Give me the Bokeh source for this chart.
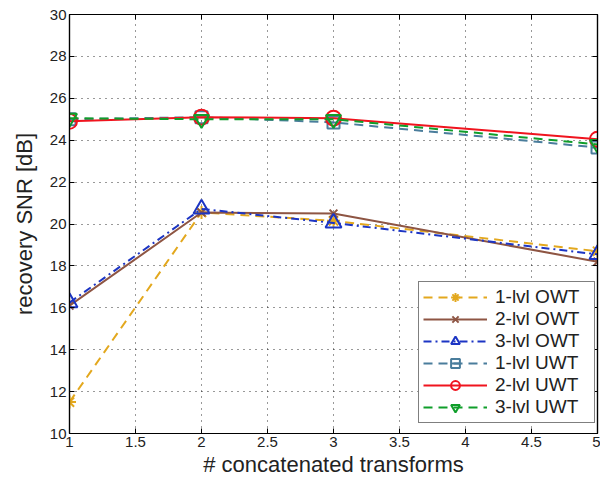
from bokeh.plotting import figure
from bokeh.models import LinearAxis, Legend, LegendItem, FixedTicker, Range1d
from bokeh.embed import file_html
from bokeh.resources import INLINE

x_vals = [1, 2, 3, 5]
owt1 = [11.5, 20.55, 20.15, 18.7]
owt2 = [16.1, 20.55, 20.5, 18.2]
owt3 = [16.25, 20.72, 20.05, 18.55]
uwt1 = [25.0, 25.1, 24.85, 23.65]
uwt2 = [24.9, 25.1, 25.05, 24.05]
uwt3 = [25.05, 25.0, 25.0, 23.8]

labels = ["1-lvl OWT", "2-lvl OWT", "3-lvl OWT", "1-lvl UWT", "2-lvl UWT", "3-lvl UWT"]
series = [owt1, owt2, owt3, uwt1, uwt2, uwt3]
colors = ["#E3A81E", "#8E5543", "#1C35C4", "#4A7D9C", "#F0141E", "#0F9E2A"]
dashes = ["9 6", "solid", "8 4 2 4", "9 6", "solid", "9 6"]
markers = ["asterisk", "x", "triangle", "square", "circle", "inverted_triangle"]
msizes = [13, 11, 16, 12, 15, 15]

x_ticks = [1, 1.5, 2, 2.5, 3, 3.5, 4, 4.5, 5]
y_ticks = list(range(10, 31, 2))

FONT = "Liberation Sans"
TXT = "#222222"

p = figure(width=600, height=480, output_backend="svg", toolbar_location=None,
           x_range=Range1d(1, 5), y_range=Range1d(10, 30),
           x_axis_label="# concatenated transforms", y_axis_label="recovery SNR [dB]",
           min_border_left=69, min_border_right=3, min_border_top=14, min_border_bottom=47)

p.outline_line_color = "black"
p.outline_line_width = 1.2
p.background_fill_color = "white"
p.border_fill_color = "white"

for ax in p.xaxis:
    ax.ticker = FixedTicker(ticks=x_ticks)
for ax in p.yaxis:
    ax.ticker = FixedTicker(ticks=y_ticks)

for ax in list(p.xaxis) + list(p.yaxis):
    ax.major_tick_in = 5
    ax.major_tick_out = 0
    ax.minor_tick_in = 0
    ax.minor_tick_out = 0
    ax.axis_line_color = "black"
    ax.axis_line_width = 1.2
    ax.major_tick_line_color = "black"
    ax.major_label_text_font = FONT
    ax.major_label_text_font_size = "15px"
    ax.major_label_text_color = TXT
    ax.axis_label_text_font = FONT
    ax.axis_label_text_font_size = "22px"
    ax.axis_label_text_font_style = "normal"
    ax.axis_label_text_color = TXT
    ax.major_label_standoff = 3
    ax.axis_label_standoff = 2

for ax in p.xaxis:
    ax.major_label_overrides = {1: "1", 2: "2", 3: "3", 4: "4", 5: "5"}
for ax in p.yaxis:
    ax.axis_label_standoff = 10

for loc, tk in (("right", y_ticks), ("above", x_ticks)):
    a = LinearAxis(ticker=FixedTicker(ticks=tk), major_tick_in=5, major_tick_out=0,
                   minor_tick_in=0, minor_tick_out=0,
                   major_label_overrides={t: "" for t in tk},
                   major_label_standoff=0, axis_line_color="black", axis_line_width=1.2)
    p.add_layout(a, loc)

p.xgrid.ticker = FixedTicker(ticks=x_ticks)
p.ygrid.ticker = FixedTicker(ticks=y_ticks)
for g in (p.xgrid, p.ygrid):
    g.grid_line_color = "black"
    g.grid_line_dash = "1 5"
    g.grid_line_alpha = 0.8
    g.grid_line_width = 1

items = []
for lab, ys, c, d, m, s in zip(labels, series, colors, dashes, markers, msizes):
    r1 = p.line(x_vals, ys, line_color=c, line_width=2, line_dash=d)
    r2 = p.scatter(x_vals, ys, marker=m, size=s, line_color=c, fill_color=None, line_width=2)
    if m == "square":
        r3 = p.scatter(x_vals, ys, marker="dash", size=s, line_color=c, line_width=2)
        items.append(LegendItem(label=lab, renderers=[r1, r2, r3]))
    else:
        items.append(LegendItem(label=lab, renderers=[r1, r2]))

legend = Legend(items=items, location=(349, 10))
legend.glyph_width = 64
legend.glyph_height = 22
legend.label_height = 22
legend.label_width = 95
legend.spacing = 0
legend.padding = 4
legend.margin = 0
legend.label_standoff = 8
legend.label_text_font = FONT
legend.label_text_font_size = "19px"
legend.label_text_color = TXT
legend.border_line_color = "black"
legend.border_line_width = 1.5
legend.background_fill_color = "white"
legend.background_fill_alpha = 1
p.add_layout(legend, "center")

open("out.html", "w").write(file_html(p, INLINE))
